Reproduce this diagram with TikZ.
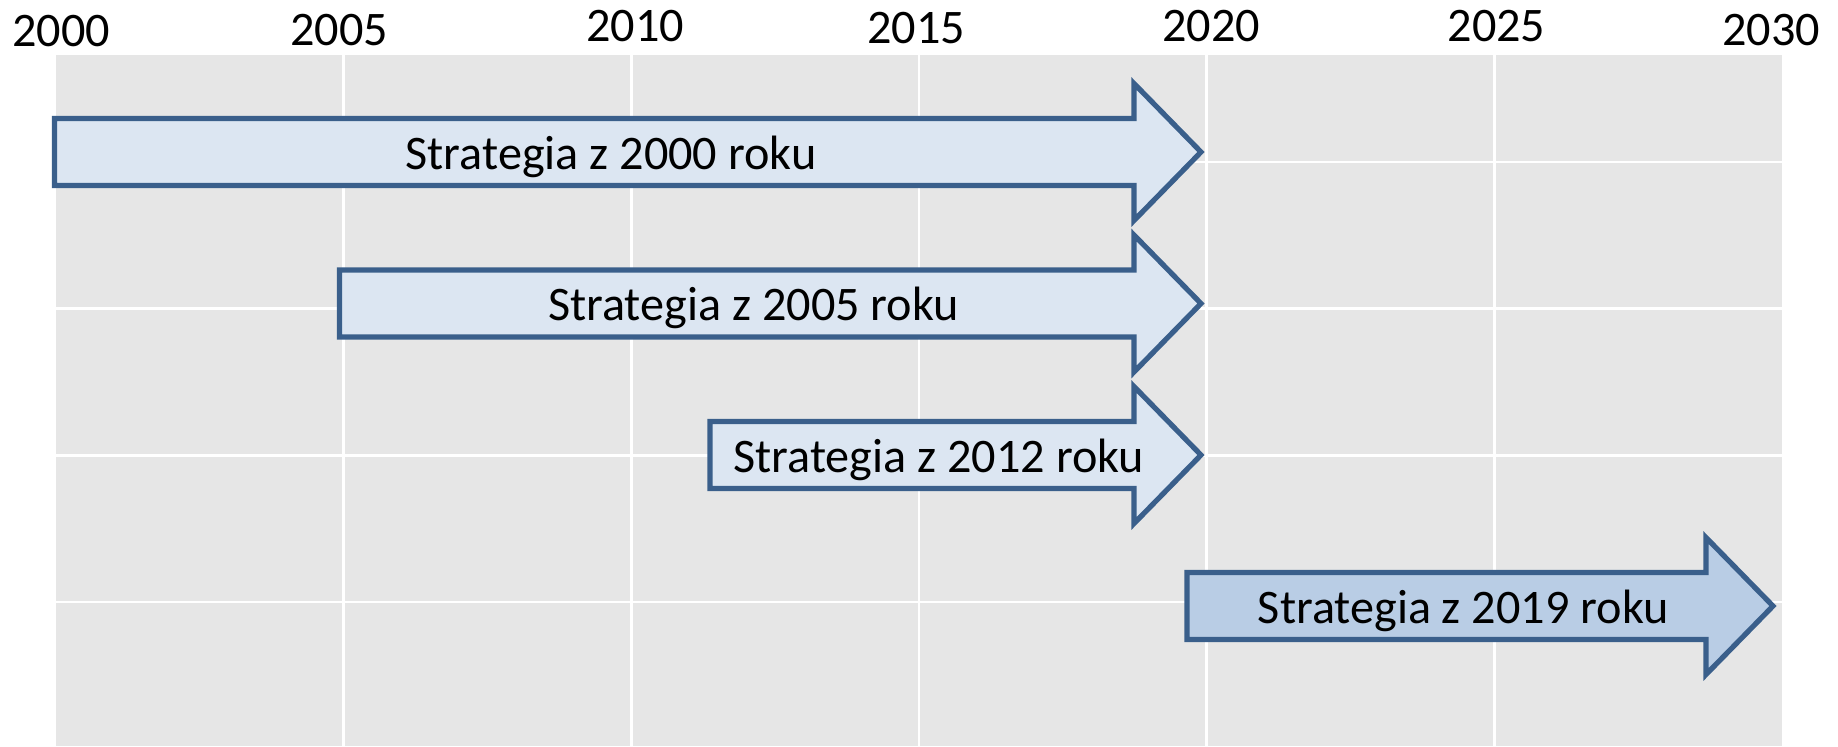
\documentclass[tikz,border=0pt]{standalone}
\usepackage{fontspec}
\setmainfont{Carlito}
\definecolor{gridbg}{HTML}{E6E6E6}
\definecolor{arrowline}{HTML}{3A5F8B}
\definecolor{fillA}{HTML}{DCE6F2}
\definecolor{fillB}{HTML}{B9CDE5}
\tikzset{
  gridline/.style={draw=white, line width=1.3pt},
  arrowbox/.style={draw=arrowline, line width=2.6pt, line join=miter},
  lbl/.style={font=\fontsize{24.1}{28}\selectfont, text=black, inner sep=0pt, anchor=base},
}
\newcommand\stratarrow[7]{%
  \draw[arrowbox, fill=#5] (#1,#2-33.5) -- (#3,#2-33.5) -- (#3,#2-68.5) -- (#4,#2)
     -- (#3,#2+68.5) -- (#3,#2+33.5) -- (#1,#2+33.5) -- cycle;
  \node[lbl] (#7) at ({(2*#1+#3+#4)/4},#2+17.3) {#6};
}
\begin{document}
\begin{tikzpicture}[x=0.5pt,y=-0.5pt]
\useasboundingbox (0,0) rectangle (1838,746);
\fill[gridbg] (56,55) rectangle (1782,746);
\foreach \i in {1,...,5} \draw[gridline] ({56+\i*287.67},55) -- ({56+\i*287.67},746);
\foreach \yy in {162,308.6,455.2,601.8} \draw[gridline] (56,\yy) -- (1782,\yy);
% year labels
\node[lbl] (y2000) at (61,46) {2000};
\node[lbl] (y2005) at (339,45) {2005};
\node[lbl] (y2010) at (635,41.7) {2010};
\node[lbl] (y2015) at (916,43.3) {2015};
\node[lbl] (y2020) at (1211,41.7) {2020};
\node[lbl] (y2025) at (1496.5,41) {2025};
\node[lbl] (y2030) at (1771,45) {2030};
% strategy arrows
\stratarrow{54.5}{152}{1134}{1201}{fillA}{Strategia z 2000 roku}{s2000}
\stratarrow{339.5}{303.5}{1134}{1201}{fillA}{Strategia z 2005 roku}{s2005}
\stratarrow{710}{455}{1134}{1201}{fillA}{Strategia z 2012 roku}{s2012}
\stratarrow{1187}{606}{1706}{1773}{fillB}{Strategia z 2019 roku}{s2019}
\end{tikzpicture}
\end{document}
